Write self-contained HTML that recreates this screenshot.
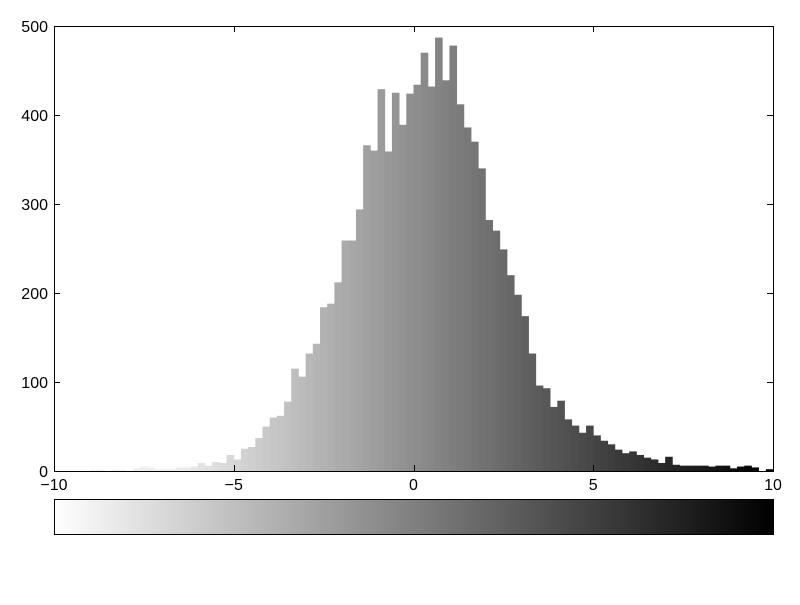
<!DOCTYPE html>
<html><head><meta charset="utf-8"><style>
body{margin:0;background:#fff}
svg text{font-family:"Liberation Sans",sans-serif;font-size:16px;fill:#000}
</style></head><body>
<svg id="chart" width="800" height="600">
<defs><linearGradient id="cb" x1="0" x2="1" y1="0" y2="0"><stop offset="0" stop-color="#fff"/><stop offset="1" stop-color="#000"/></linearGradient></defs>
<g id="bars"></g>
<rect x="54.5" y="26.5" width="719" height="445" fill="none" stroke="#000" stroke-width="1"/>
<g id="ticks"></g>
<rect x="54.5" y="499.5" width="719" height="35" fill="url(#cb)" stroke="#000"/>
</svg>
<script>
const binStart = -10, binWidth = 0.2;
const counts = [0,0,0,0,0,1,1,0,1,1,0,3,5,4,2,2,2,4,4,5,9,6,10,9,18,13,
25,27,37,50,60,62,78,115,106,132,143,184,188,212,259,259,294,366,360,429,359,425,389,424,434,470,432,487,439,478,412,386,370,340,282,270,249,220,198,174,132,96,93,72,79,58,51,43,51,40,34,30,24,20,22,18,15,13,9,16,7,6,6,6,6,5,6,6,3,5,6,4,0,2];
const xTicks = [-10,-5,0,5,10];
const xTickLabels = ["\u221210","\u22125","0","5","10"];
const yTicks = [0,100,200,300,400,500];
const cMin = -7.8, cMax = 9.8;
const x0=54, x1=773, y0=471, y1=26;
const X = v => x0 + (v+10)/20*(x1-x0);
const Y = v => y0 - v/500*(y0-y1);
const NS="http://www.w3.org/2000/svg";
const bars=document.getElementById('bars'), ticks=document.getElementById('ticks');
counts.forEach((c,i)=>{
  const a=binStart+i*binWidth, b=a+binWidth;
  let t=(a+binWidth/2-cMin)/(cMax-cMin); t=Math.max(0,Math.min(1,t));
  const g=Math.min(238,Math.round(255*(1-t)));
  const r=document.createElementNS(NS,'rect');
  r.setAttribute('x',X(a)); r.setAttribute('width',X(b)-X(a)+0.4);
  r.setAttribute('y',Y(c)); r.setAttribute('height',Y(0)-Y(c));
  r.setAttribute('fill',`rgb(${g},${g},${g})`);
  
  
  bars.appendChild(r);
});
function line(xa,ya,xb,yb){const l=document.createElementNS(NS,'line');l.setAttribute('x1',xa);l.setAttribute('y1',ya);l.setAttribute('x2',xb);l.setAttribute('y2',yb);l.setAttribute('stroke','#000');ticks.appendChild(l);}
function text(x,y,s,anchor){const t=document.createElementNS(NS,'text');t.setAttribute('x',x);t.setAttribute('y',y);t.setAttribute('text-anchor',anchor);t.textContent=s;


ticks.appendChild(t);}
xTicks.forEach((v,i)=>{const x=Math.round(X(v))+0.5;line(x,471,x,465);line(x,26,x,32);text(X(v),490,xTickLabels[i],'middle');});
yTicks.forEach(v=>{const y=Math.round(Y(v))+0.5;line(54,y,60,y);line(773,y,767,y);text(48,Y(v)+6,String(v),'end');});
</script>
</body></html>
